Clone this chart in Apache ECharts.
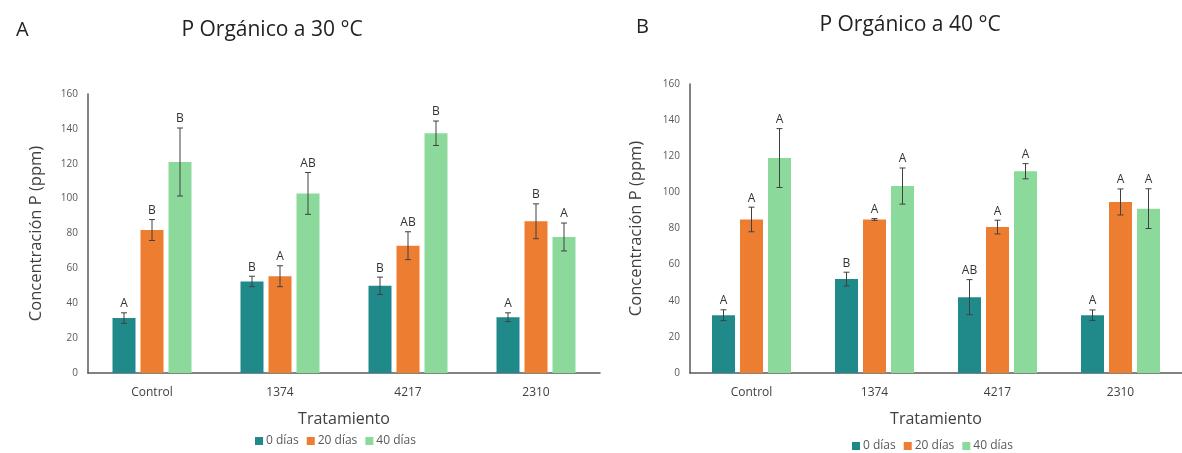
<!DOCTYPE html>
<html>
<head>
<meta charset="utf-8">
<script src="https://cdn.jsdelivr.net/npm/echarts@6/dist/echarts.min.js"></script>
<style>
  html, body { margin: 0; padding: 0; background: #fff; }
  #chart { width: 1182px; height: 453px; }
</style>
</head>
<body>
<div id="chart"></div>
<script>
// categorías (tratamientos)
const categories = ["Control", "1374", "4217", "2310"];
const seriesNames = ["0 días", "20 días", "40 días"];
const yTicks = [0, 20, 40, 60, 80, 100, 120, 140, 160];

// A: 30 °C
const a0 = [31.5, 52.5, 50, 32];
const a0Err = [3, 3, 5, 2.5];
const a0Let = ["A", "B", "B", "A"];
const a20 = [82, 55.5, 73, 87];
const a20Err = [6, 6, 8, 10];
const a20Let = ["B", "A", "AB", "B"];
const a40 = [121, 103, 137.5, 78];
const a40Err = [19.5, 12, 7, 8];
const a40Let = ["B", "AB", "B", "A"];

// B: 40 °C
const b0 = [32, 52, 42, 32];
const b0Err = [3, 3.8, 9.7, 2.9];
const b0Let = ["A", "B", "AB", "A"];
const b20 = [85, 85, 80.8, 94.7];
const b20Err = [6.8, 0.5, 3.8, 7.2];
const b20Let = ["A", "A", "A", "A"];
const b40 = [119, 103.5, 111.7, 91];
const b40Err = [16.3, 10, 4.2, 11];
const b40Let = ["A", "A", "A", "A"];

const colors = ["#1f8a89", "#ed7d31", "#8cd99c"];
const BAR_W = 23;
const BAR_GAP = 5;
const FONT = "'Open Sans', 'Noto Sans', sans-serif";

const chart = echarts.init(document.getElementById("chart"));

function barSeries(name, values, gi, k) {
  return {
    name: name,
    type: "bar",
    xAxisIndex: gi,
    yAxisIndex: gi,
    barWidth: BAR_W,
    barGap: (BAR_GAP / BAR_W * 100) + "%",
    itemStyle: { color: colors[k] },
    data: values
  };
}

// barras de error + letras de significancia
function errSeries(values, errs, letters, gi, k) {
  return {
    type: "custom",
    xAxisIndex: gi,
    yAxisIndex: gi,
    z: 5,
    silent: true,
    data: values.map((v, i) => [i, v, errs[i]]),
    renderItem: function (params, api) {
      const i = api.value(0);
      const v = api.value(1);
      const e = api.value(2);
      const off = (k - 1) * (BAR_W + BAR_GAP);
      const top = api.coord([i, v + e]);
      const bot = api.coord([i, v - e]);
      const x = top[0] + off;
      const cap = 3;
      const st = { stroke: "#404040", lineWidth: 1 };
      return {
        type: "group",
        children: [
          { type: "line", shape: { x1: x, y1: top[1], x2: x, y2: bot[1] }, style: st },
          { type: "line", shape: { x1: x - cap, y1: top[1], x2: x + cap, y2: top[1] }, style: st },
          { type: "line", shape: { x1: x - cap, y1: bot[1], x2: x + cap, y2: bot[1] }, style: st },
          {
            type: "text",
            style: {
              text: letters[params.dataIndex],
              x: x, y: top[1] - 3,
              align: "center", verticalAlign: "bottom",
              fill: "#333", fontSize: 12, fontFamily: FONT
            }
          }
        ]
      };
    }
  };
}

function xAxis(gi) {
  return {
    type: "category",
    gridIndex: gi,
    data: categories,
    axisTick: { show: false },
    axisLine: { lineStyle: { color: "#595959", width: 1.5 } },
    axisLabel: { color: "#404040", fontSize: 12, margin: 14, fontFamily: FONT },
    name: "Tratamiento",
    nameLocation: "middle",
    nameGap: 38,
    nameTextStyle: { color: "#404040", fontSize: 16, fontFamily: FONT }
  };
}

function yAxis(gi, gap) {
  return {
    type: "value",
    gridIndex: gi,
    min: yTicks[0],
    max: yTicks[yTicks.length - 1],
    interval: 20,
    splitLine: { show: false },
    axisTick: { show: false },
    axisLine: { show: true, lineStyle: { color: "#595959", width: 1.5 } },
    axisLabel: { color: "#595959", fontSize: 10, margin: 10, fontFamily: FONT },
    name: "Concentración P (ppm)",
    nameLocation: "middle",
    nameGap: gap,
    nameTextStyle: { color: "#404040", fontSize: 16.5, fontFamily: FONT }
  };
}

chart.setOption({
  backgroundColor: "#fff",
  animation: false,
  textStyle: { fontFamily: FONT },
  title: [
    { text: "A", left: 11, top: 15, textStyle: { fontSize: 20, fontWeight: "normal", color: "#222" } },
    { text: "P Orgánico a 30 °C", left: 267, top: 15, textAlign: "center", textStyle: { fontSize: 21, fontWeight: "normal", color: "#222" } },
    { text: "B", left: 631, top: 12, textStyle: { fontSize: 20, fontWeight: "normal", color: "#222" } },
    { text: "P Orgánico a 40 °C", left: 905, top: 10, textAlign: "center", textStyle: { fontSize: 21, fontWeight: "normal", color: "#222" } }
  ],
  legend: [
    {
      data: seriesNames, left: 250, top: 430, itemWidth: 8, itemHeight: 8, itemGap: 8,
      icon: "rect", textStyle: { color: "#595959", fontSize: 12, padding: [0, 0, 0, -2] }
    },
    {
      data: seriesNames, left: 847, top: 435, itemWidth: 8, itemHeight: 8, itemGap: 8,
      icon: "rect", textStyle: { color: "#595959", fontSize: 12, padding: [0, 0, 0, -2] }
    }
  ],
  grid: [
    { left: 88, top: 94, width: 512, height: 279 },
    { left: 690, top: 84, width: 504, height: 289 }
  ],
  xAxis: [xAxis(0), xAxis(1)],
  yAxis: [yAxis(0, 43), yAxis(1, 45)],
  series: [
    barSeries(seriesNames[0], a0, 0, 0),
    barSeries(seriesNames[1], a20, 0, 1),
    barSeries(seriesNames[2], a40, 0, 2),
    barSeries(seriesNames[0], b0, 1, 0),
    barSeries(seriesNames[1], b20, 1, 1),
    barSeries(seriesNames[2], b40, 1, 2),
    errSeries(a0, a0Err, a0Let, 0, 0),
    errSeries(a20, a20Err, a20Let, 0, 1),
    errSeries(a40, a40Err, a40Let, 0, 2),
    errSeries(b0, b0Err, b0Let, 1, 0),
    errSeries(b20, b20Err, b20Let, 1, 1),
    errSeries(b40, b40Err, b40Let, 1, 2)
  ]
});
</script>
</body>
</html>
